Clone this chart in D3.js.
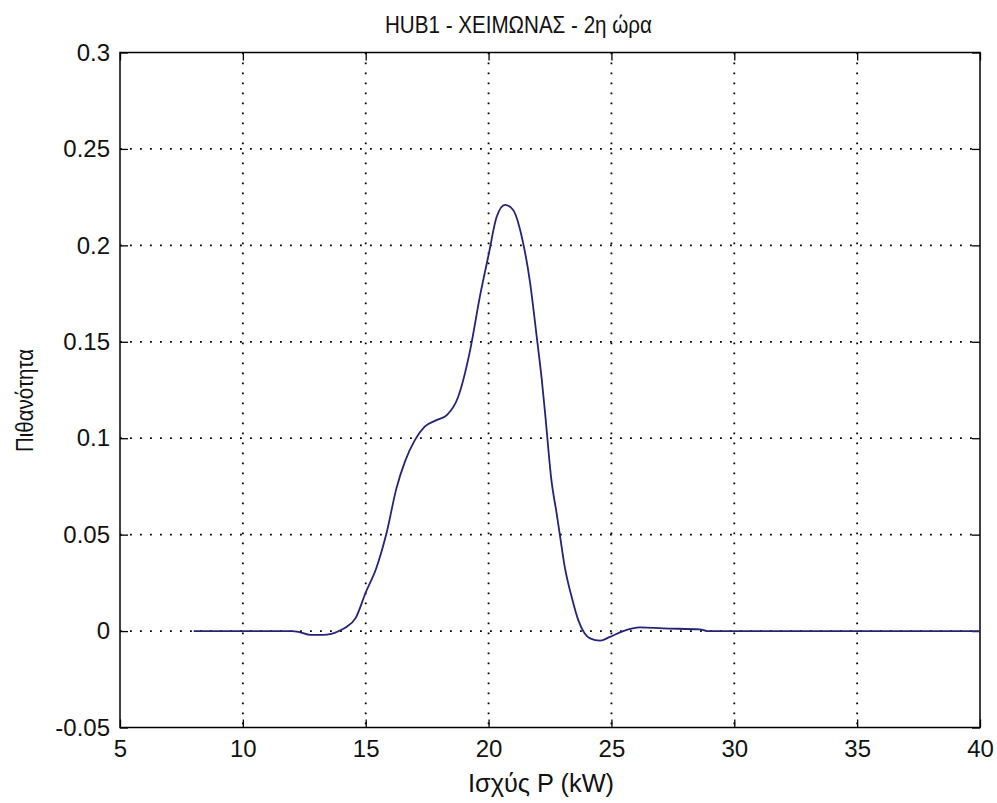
<!DOCTYPE html>
<html>
<head>
<meta charset="utf-8">
<script src="https://cdn.jsdelivr.net/npm/d3@7"></script>
<style>
  html, body { margin: 0; padding: 0; background: #ffffff; }
  text { font-family: "Liberation Sans", Arial, sans-serif; fill: #111; }
</style>
</head>
<body>
<svg id="chart" width="997" height="803"></svg>
<script>
// ---- data ----
const powerKW = [8, 9, 10, 11, 12, 12.3, 12.75, 13.25, 13.6, 13.9, 14.2, 14.6, 15.0, 15.44, 15.85, 16.25, 16.6, 17.0, 17.4, 17.9, 18.3, 18.75, 19.25, 19.65, 20.0, 20.33, 20.67, 21.0, 21.35, 21.69, 21.96, 22.16, 22.3, 22.56, 22.77, 22.9, 23.1, 23.38, 23.65, 23.9, 24.13, 24.54, 24.94, 25.48, 26.16, 27.1, 28.6, 28.9, 30, 35, 40];
const probability = [0, 0, 0, 0, 0, -0.0005, -0.002, -0.002, -0.0015, 0, 0.002, 0.007, 0.02, 0.033, 0.051, 0.074, 0.088, 0.099, 0.106, 0.1095, 0.112, 0.121, 0.1457, 0.1737, 0.195, 0.2148, 0.221, 0.2183, 0.2045, 0.1806, 0.1526, 0.131, 0.113, 0.078, 0.061, 0.05, 0.0333, 0.0178, 0.0057, -0.001, -0.0038, -0.005, -0.003, 0, 0.0019, 0.0014, 0.0009, 0, 0, 0, 0];
const xTicks = [5, 10, 15, 20, 25, 30, 35, 40];
const yTicks = [-0.05, 0, 0.05, 0.1, 0.15, 0.2, 0.25, 0.3];
const yTickLabels = ["-0.05", "0", "0.05", "0.1", "0.15", "0.2", "0.25", "0.3"];
const titleText = "HUB1 - ΧΕΙΜΩΝΑΣ - 2η ώρα";
const xLabelText = "Ισχύς P (kW)";
const yLabelText = "Πιθανότητα";

// ---- layout ----
const svg = d3.select("#chart");
const L = 120, R = 980, T = 52.5, B = 727.5;
const x = d3.scaleLinear().domain([5, 40]).range([L, R]);
const y = d3.scaleLinear().domain([-0.05, 0.3]).range([B, T]);
const fontSize = 24;

// grid
const grid = svg.append("g");
xTicks.slice(1, -1).forEach(t => {
  grid.append("line").attr("x1", x(t)).attr("x2", x(t)).attr("y1", T).attr("y2", B)
    .attr("stroke", "#000").attr("stroke-width", 1.8).attr("stroke-dasharray", "1.8 8.2");
});
yTicks.slice(1, -1).forEach(t => {
  grid.append("line").attr("x1", L).attr("x2", R).attr("y1", y(t)).attr("y2", y(t))
    .attr("stroke", "#000").attr("stroke-width", 1.8).attr("stroke-dasharray", "1.8 8.2");
});

// axes
const fmtY = d => yTickLabels[yTicks.indexOf(d)];
const xAxisB = d3.axisBottom(x).tickValues(xTicks).tickSizeInner(-8).tickSizeOuter(0).tickPadding(12);
const xAxisT = d3.axisTop(x).tickValues(xTicks).tickSizeInner(-8).tickSizeOuter(0).tickFormat("");
const yAxisL = d3.axisLeft(y).tickValues(yTicks).tickSizeInner(-8).tickSizeOuter(0).tickPadding(10).tickFormat(fmtY);
const yAxisR = d3.axisRight(y).tickValues(yTicks).tickSizeInner(-8).tickSizeOuter(0).tickFormat("");

function style(g) {
  g.select(".domain").remove();
  g.selectAll(".tick line").attr("stroke", "#000").attr("stroke-width", 1.3);
  g.selectAll(".tick text").attr("font-size", fontSize).attr("fill", "#111")
    .attr("font-family", "'Liberation Sans', Arial, sans-serif");
}
svg.append("g").attr("transform", `translate(0,${B})`).call(xAxisB).call(style);
svg.append("g").attr("transform", `translate(0,${T})`).call(xAxisT).call(style);
svg.append("g").attr("transform", `translate(${L},0)`).call(yAxisL).call(style);
svg.append("g").attr("transform", `translate(${R},0)`).call(yAxisR).call(style);

// box
svg.append("rect").attr("x", L).attr("y", T).attr("width", R - L).attr("height", B - T)
  .attr("fill", "none").attr("stroke", "#000").attr("stroke-width", 1.5);

// curve
const pts = powerKW.map((p, i) => [p, probability[i]]);
const line = d3.line().x(d => x(d[0])).y(d => y(d[1])).curve(d3.curveMonotoneX);
svg.append("path").datum(pts).attr("d", line)
  .attr("fill", "none").attr("stroke", "#23237a").attr("stroke-width", 1.8);

// labels
svg.append("text").attr("x", 385).attr("y", 33)
  .attr("font-size", 24).attr("textLength", 267).attr("lengthAdjust", "spacingAndGlyphs").text(titleText);
svg.append("text").attr("x", 468).attr("y", 792)
  .attr("font-size", 25).attr("textLength", 146).attr("lengthAdjust", "spacingAndGlyphs").text(xLabelText);
svg.append("text").attr("transform", `translate(33,452) rotate(-90)`)
  .attr("font-size", 23).attr("textLength", 103).attr("lengthAdjust", "spacingAndGlyphs").text(yLabelText);
</script>
</body>
</html>
